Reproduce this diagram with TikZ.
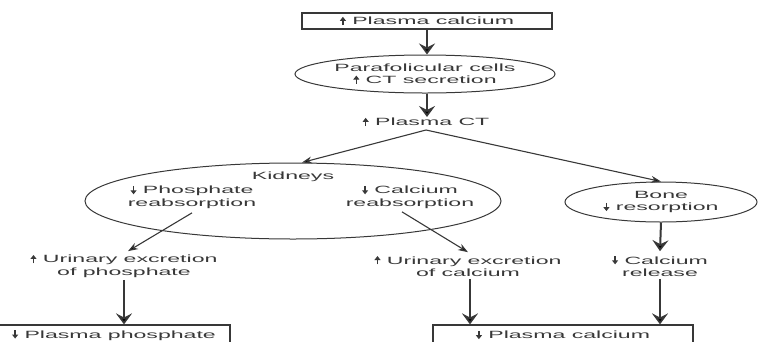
\documentclass[tikz,border=0pt]{standalone}
\usepackage{fontspec}
\setmainfont{Liberation Sans}[FakeStretch=2.2]
\usetikzlibrary{shapes.geometric,arrows.meta,calc}
\definecolor{ink}{gray}{0.22}
\newcommand{\arrUp}{\tikz[baseline=0pt]\draw[ink,line width=1.3pt,-{Triangle[length=4pt,width=6pt]}](0pt,-0.3pt)--(0pt,8pt);}
\newcommand{\arrDn}{\tikz[baseline=0pt]\draw[ink,line width=1.3pt,-{Triangle[length=4pt,width=6pt]}](0pt,8pt)--(0pt,-0.3pt);}
\begin{document}
\begin{tikzpicture}[x=1pt,y=-1pt,
  txt/.style={font=\fontsize{10.5}{12.5}\selectfont, text=ink, align=center, inner sep=0pt},
  boxn/.style={txt, draw=ink, line width=1.2pt, rectangle},
  ell/.style={txt, draw=ink, line width=1pt, ellipse},
  bigarrow/.style={draw=ink, line width=2pt, -{Stealth[length=11pt,width=16pt,inset=4pt]}},
  thinarrow/.style={draw=ink, line width=1.1pt, -{Stealth[length=10pt,width=7pt]}}]
\useasboundingbox (0,0) rectangle (760,341);
\clip (0,0) rectangle (760,341);

\node[boxn, minimum width=250pt, minimum height=16pt] (top) at (427,21) {\arrUp\ Plasma calcium};
\node[ell, minimum width=260pt, minimum height=38pt] (para) at (425,74) {Parafolicular cells\\\arrUp\ CT secretion};
\node[txt] (ct) at (426,122) {\arrUp\ Plasma CT};

\node[ell, minimum width=416pt, minimum height=76pt] (kid) at (293,201) {};
\node[txt] (kidt) at (293,177) {Kidneys};
\node[txt] (phos) at (192,197) {\arrDn\ Phosphate\\reabsorption};
\node[txt] (calr) at (410,197) {\arrDn\ Calcium\\reabsorption};

\node[ell, minimum width=192pt, minimum height=40pt] (bone) at (661,202) {Bone\\\arrDn\ resorption};

\node[txt] (urp) at (124,266) {\arrUp\ Urinary excretion\\of phosphate};
\node[txt] (urc) at (468,266) {\arrUp\ Urinary excretion\\of calcium};
\node[txt] (rel) at (660,266) {\arrDn\ Calcium\\release};

\node[boxn, minimum width=232pt, minimum height=20pt] (phbox) at (114,335) {\arrDn\ Plasma phosphate};
\node[boxn, minimum width=260pt, minimum height=20pt] (cabox) at (563,335) {\arrDn\ Plasma calcium};

\draw[bigarrow] (top.south) -- (top.south |- para.north);
\draw[bigarrow] ([xshift=2pt]para.south) -- ([xshift=1pt]ct.north);
\draw[thinarrow] ([yshift=-3pt]ct.south) -- ($(kid.north)+(9,0)$);
\draw[thinarrow] ([yshift=-3pt]ct.south) -- (bone.north);
\draw[thinarrow] ([yshift=-4pt]phos.south) -- ([xshift=4pt,yshift=3pt]urp.north);
\draw[thinarrow] ([xshift=-8pt,yshift=-3pt]calr.south) -- ([yshift=3pt]urc.north);
\draw[bigarrow] (bone.south) -- ([yshift=4pt]rel.north);
\draw[bigarrow] ([yshift=-2pt]urp.south) -- (urp.south |- phbox.north);
\draw[bigarrow] ([xshift=2pt,yshift=-2pt]urc.south) -- ([xshift=2pt]urc.south |- cabox.north);
\draw[bigarrow] ([yshift=-2pt]rel.south) -- (rel.south |- cabox.north);
\end{tikzpicture}
\end{document}
